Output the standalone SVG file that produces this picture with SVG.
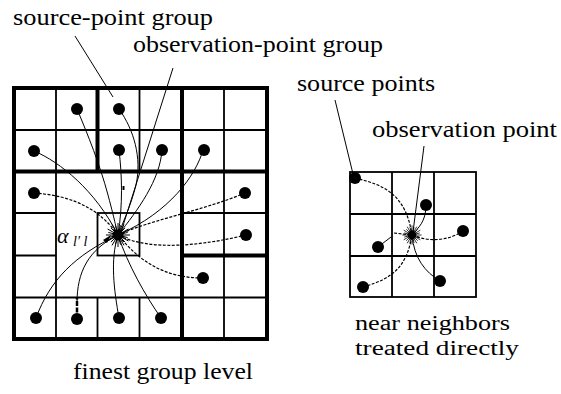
<svg xmlns="http://www.w3.org/2000/svg" xmlns:xlink="http://www.w3.org/1999/xlink" width="561" height="394" viewBox="0 0 561 394">
<style>
.lbl { font-family: "Liberation Serif", "Times New Roman", serif; font-size: 24px; fill: #000; }
.thick { stroke: #000; stroke-width: 4; fill: none; stroke-linecap: square; }
.thin { stroke: #000; stroke-width: 1.8; fill: none; }
.cur { stroke: #000; stroke-width: 1; fill: none; }
.dash { stroke: #000; stroke-width: 1.2; fill: none; stroke-dasharray: 3 1.5; }
.lead { stroke: #000; stroke-width: 1; fill: none; }
.dot { fill: #000; }
</style>
<defs>
<g id="burst">
<path d="M0,0L12,0M0,0L9.7,2.6M0,0L10.4,6M0,0L7.1,7.1M0,0L6,10.4M0,0L2.6,9.7M0,0L0,12M0,0L-2.6,9.7M0,0L-6,10.4M0,0L-7.1,7.1M0,0L-10.4,6M0,0L-9.7,2.6M0,0L-12,0M0,0L-9.7,-2.6M0,0L-10.4,-6M0,0L-7.1,-7.1M0,0L-6,-10.4M0,0L-2.6,-9.7M0,0L0,-12M0,0L2.6,-9.7M0,0L6,-10.4M0,0L7.1,-7.1M0,0L10.4,-6M0,0L9.7,-2.6" stroke="#000" stroke-width="1" fill="none"/>
<circle cx="0" cy="0" r="5.5" fill="#000"/>
</g>
</defs>

<g id="left-grid">
<path class="thin" d="M56,88V339 M224,88V339 M97.5,297.5V339 M139.5,88V171.5 M139.5,297.5V339 M14,130H267 M14,213H56 M14,255.5H56 M182,213H267 M14,297.5H267 M182,255.5H267"/>
<rect class="thin" x="97.5" y="213" width="42" height="42.5"/>
<rect class="thick" x="14" y="88" width="253" height="251"/>
<path class="thick" d="M97.5,88V171.5 M14,171.5H267 M182,88V339 M182,255.5H267"/>
</g>

<g id="right-grid">
<rect class="thin" x="350" y="172" width="126" height="125" stroke-width="2"/>
<path class="thin" stroke-width="2" d="M392,172V297 M434,172V297 M350,214H476 M350,256H476"/>
</g>

<g id="connectors">
<path class="cur" d="M77,109 C88,135 100,165 108,195 S116,228 118,235"/>
<path class="cur" d="M119,109 C134,130 142,158 136,185 C131,205 122,225 118,235"/>
<path class="cur" d="M34,151 C60,162 95,190 118,235"/>
<path class="cur" d="M119,150 C122,175 123,205 118,235"/>
<path class="cur" d="M162,150 C160,180 138,210 118,235"/>
<path class="cur" d="M203,150 C196,175 170,212 118,235"/>
<path class="dash" d="M34,193 C75,196 100,210 118,235"/>
<path class="dash" d="M245,193 C205,210 150,220 118,235"/>
<path class="dash" d="M246,235 C205,245 150,252 118,235"/>
<path class="dash" d="M203,278 C165,278 140,262 118,235"/>
<path class="cur" d="M36,318 C50,280 75,255 118,235"/>
<path class="cur" d="M77,303 C77,272 88,250 118,235"/>
<path d="M77,319 L77,298" stroke="#000" stroke-width="2.5" stroke-dasharray="5 1.5"/>
<path class="cur" d="M119,318 C114,290 110,260 118,235"/>
<path class="cur" d="M161,318 C145,295 128,265 118,235"/>
<rect x="122.5" y="186" width="2" height="4" fill="#000"/>
<polygon points="103,240 111,235 107,243" fill="#000"/>
<path class="dash" d="M355,178 C385,185 406,195 412,235"/>
<path class="cur" d="M426,205 C426,222 418,228 412,235"/>
<path class="dash" d="M463,231 C450,240 430,243 412,235"/>
<path class="cur" d="M378,247 L391,237"/>
<path class="dash" d="M394,233 L412,235"/>
<path class="cur" d="M440,281 C425,272 414,258 412,235"/>
<path class="dash" d="M363,287 C395,278 407,265 412,235"/>
<path class="lead" d="M75,36 L113,97"/>
<path class="lead" d="M173,68 L121,232"/>
<path class="lead" d="M335,100 L353,174"/>
<path class="lead" d="M424,146 L413,232"/>
</g>

<g id="left-points">
<circle class="dot" cx="77" cy="109" r="6"/>
<circle class="dot" cx="119" cy="109" r="6"/>
<circle class="dot" cx="34" cy="151" r="6"/>
<circle class="dot" cx="119" cy="150" r="6"/>
<circle class="dot" cx="162" cy="150" r="6"/>
<circle class="dot" cx="204" cy="150" r="6"/>
<circle class="dot" cx="34" cy="193" r="6"/>
<circle class="dot" cx="245" cy="193" r="6"/>
<circle class="dot" cx="246" cy="235" r="6"/>
<circle class="dot" cx="203" cy="278" r="6"/>
<circle class="dot" cx="36" cy="318" r="6"/>
<circle class="dot" cx="77" cy="319" r="6"/>
<circle class="dot" cx="119" cy="318" r="6"/>
<circle class="dot" cx="161" cy="318" r="6"/>
</g>
<g id="left-observation">
<use xlink:href="#burst" transform="translate(118,235)"/>
</g>

<g id="right-points">
<circle class="dot" cx="355" cy="178" r="6"/>
<circle class="dot" cx="426" cy="205" r="6"/>
<circle class="dot" cx="463" cy="231" r="6"/>
<circle class="dot" cx="378" cy="247" r="6"/>
<circle class="dot" cx="440" cy="281" r="6"/>
<circle class="dot" cx="363" cy="287" r="6"/>
</g>
<g id="right-observation">
<use xlink:href="#burst" transform="translate(412,235) scale(0.8)"/>
</g>

<g id="labels">
<text class="lbl" x="13" y="25" textLength="200" lengthAdjust="spacingAndGlyphs">source-point group</text>
<text class="lbl" x="133" y="52" textLength="250" lengthAdjust="spacingAndGlyphs">observation-point group</text>
<text class="lbl" x="297" y="91" textLength="138" lengthAdjust="spacingAndGlyphs">source points</text>
<text class="lbl" x="372" y="137" textLength="185" lengthAdjust="spacingAndGlyphs">observation point</text>
<text class="lbl" x="355" y="330" style="font-size:20px" textLength="155" lengthAdjust="spacingAndGlyphs">near neighbors</text>
<text class="lbl" x="355" y="355" style="font-size:20px" textLength="164" lengthAdjust="spacingAndGlyphs">treated directly</text>
<text class="lbl" x="73" y="379" textLength="180" lengthAdjust="spacingAndGlyphs">finest group level</text>
<text class="lbl" x="57" y="243" style="font-size:22px;font-style:italic">α</text>
<text class="lbl" x="73" y="246" style="font-size:14px;font-style:italic">l′ l</text>
</g>
</svg>
